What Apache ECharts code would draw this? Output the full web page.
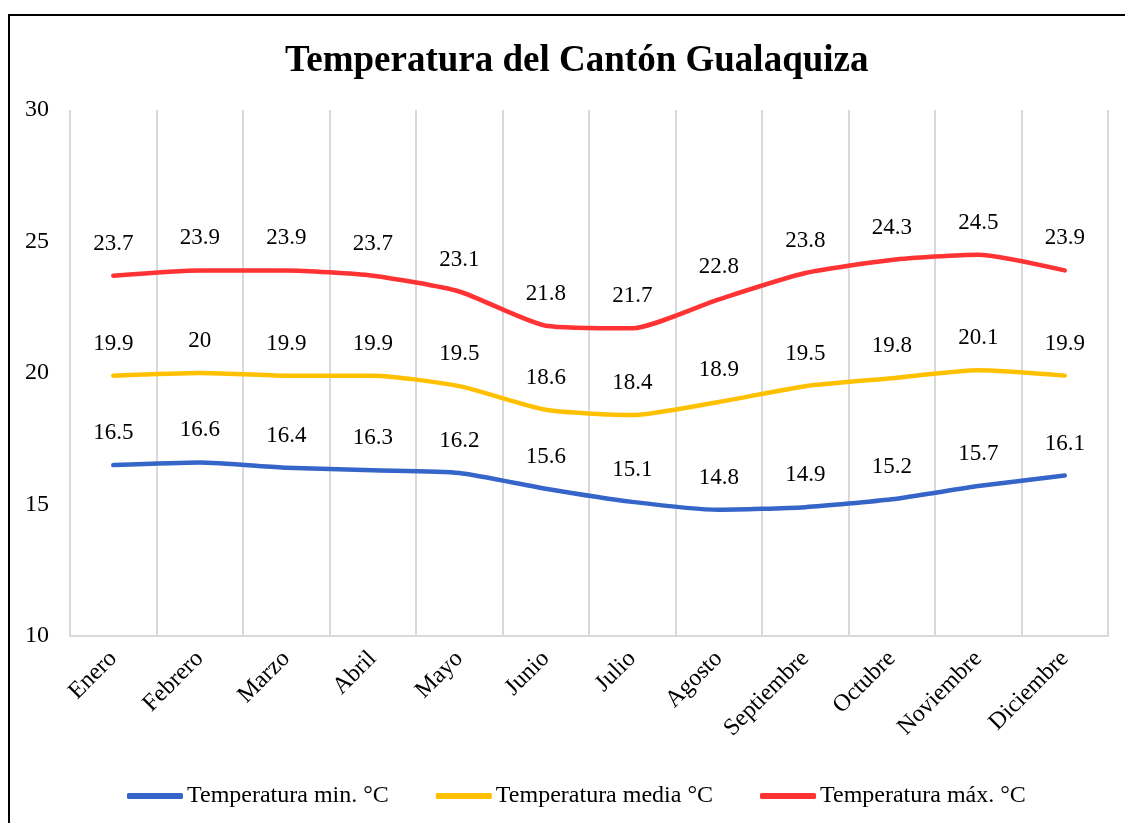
<!DOCTYPE html>
<html>
<head>
<meta charset="utf-8">
<script src="https://cdn.jsdelivr.net/npm/echarts@6/dist/echarts.min.js"></script>
<style>
html,body{margin:0;padding:0;background:#fff;}
#chart{width:1125px;height:823px;position:relative;}
#frame{position:absolute;left:8px;top:14px;width:1200px;height:900px;border-left:2px solid #000;border-top:2px solid #000;pointer-events:none;z-index:5;}
</style>
</head>
<body>
<div id="chart"></div>
<div id="frame"></div>
<script>
const categories = ['Enero','Febrero','Marzo','Abril','Mayo','Junio','Julio','Agosto','Septiembre','Octubre','Noviembre','Diciembre'];
const tempMin = [16.5,16.6,16.4,16.3,16.2,15.6,15.1,14.8,14.9,15.2,15.7,16.1];
const tempMedia = [19.9,20,19.9,19.9,19.5,18.6,18.4,18.9,19.5,19.8,20.1,19.9];
const tempMax = [23.7,23.9,23.9,23.7,23.1,21.8,21.7,22.8,23.8,24.3,24.5,23.9];
const seriesNames = ['Temperatura min. °C','Temperatura media °C','Temperatura máx. °C'];
const seriesColors = ['#3565C9','#FFC000','#FF3333'];

const FONT = '"Liberation Serif","Times New Roman",serif';
const chart = echarts.init(document.getElementById('chart'), null, {renderer:'canvas'});

function mk(name, data, color){
  return {
    name: name, type: 'line', data: data, smooth: 0.2,
    symbol: 'circle', symbolSize: 1, showSymbol: true,
    lineStyle: {width: 4.5, color: color, cap: 'round', join: 'round'},
    itemStyle: {color: color},
    label: {show: true, position: 'top', distance: 20, fontFamily: FONT, fontSize: 23, color: '#000'},
    emphasis: {disabled: true}
  };
}

chart.setOption({
  animation: false,
  title: {
    text: 'Temperatura del Cantón Gualaquiza', left: 280, top: 38,
    textStyle: {fontFamily: FONT, fontSize: 37, fontWeight: 'bold', color: '#000'}
  },
  legend: {
    top: 779, left: 122, itemWidth: 56, itemHeight: 6, itemGap: 47,
    icon: 'roundRect',
    textStyle: {fontFamily: FONT, fontSize: 24, color: '#000', padding:[0,0,0,-1]},
    data: seriesNames
  },
  grid: {left: 70, right: 17, top: 110, bottom: 187, containLabel: false},
  xAxis: {
    type: 'category', data: categories, boundaryGap: true,
    axisLine: {show: true, lineStyle: {color: '#d9d9d9', width: 2}},
    axisTick: {show: false},
    splitLine: {show: true, lineStyle: {color: '#d9d9d9', width: 2}},
    axisLabel: {rotate: 45, margin: 19, fontFamily: FONT, fontSize: 24, color: '#000', interval: 0}
  },
  yAxis: {
    type: 'value', min: 10, max: 30, interval: 5,
    axisLine: {show: false}, axisTick: {show: false},
    splitLine: {show: false},
    axisLabel: {margin: 21, fontFamily: FONT, fontSize: 24, color: '#000'}
  },
  series: [
    mk(seriesNames[0], tempMin, seriesColors[0]),
    mk(seriesNames[1], tempMedia, seriesColors[1]),
    mk(seriesNames[2], tempMax, seriesColors[2])
  ]
});
</script>
</body>
</html>
